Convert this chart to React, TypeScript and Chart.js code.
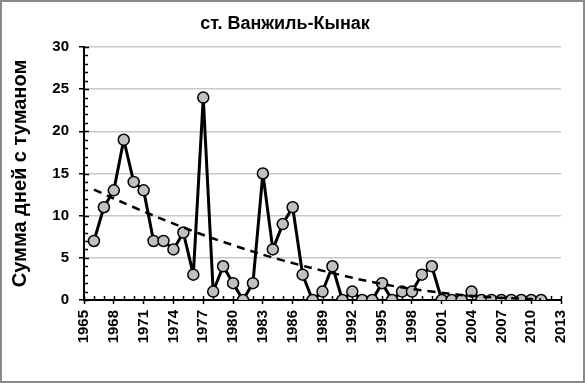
import React, { useEffect, useRef } from "react";
import { Chart, registerables } from "chart.js";

Chart.register(...registerables);

const years = [
  1966, 1967, 1968, 1969, 1970, 1971, 1972, 1973, 1974, 1975, 1976, 1977, 1978, 1979, 1980,
  1981, 1982, 1983, 1984, 1985, 1986, 1987, 1988, 1989, 1990, 1991, 1992, 1993, 1994, 1995,
  1996, 1997, 1998, 1999, 2000, 2001, 2002, 2003, 2004, 2005, 2006, 2007, 2008, 2009, 2010, 2011,
];
const fogDays = [
  7, 11, 13, 19, 14, 13, 7, 7, 6, 8, 3, 24, 1, 4, 2,
  0, 2, 15, 6, 9, 11, 3, 0, 1, 4, 0, 1, 0, 0, 2,
  0, 1, 1, 3, 4, 0, 0, 0, 1, 0, 0, 0, 0, 0, 0, 0,
];
const trendYears = [1966, 1970, 1975, 1980, 1985, 1990, 1995, 2000, 2005, 2011];
const trendValues = [13.1, 11.0, 8.6, 6.5, 4.7, 3.2, 1.9, 1.0, 0.4, 0.05];

const TITLE = "ст. Ванжиль-Кынак";
const Y_TITLE = "Сумма дней с туманом";
const FONT = "'Liberation Sans', Arial, sans-serif";

const framePlugin = {
  id: "frame",
  beforeDraw(chart: any) {
    const { ctx, width, height } = chart;
    ctx.save();
    ctx.fillStyle = "#ffffff";
    ctx.fillRect(0, 0, width, height);
    ctx.strokeStyle = "#8a8a8a";
    ctx.lineWidth = 2;
    ctx.strokeRect(1, 1, width - 2, height - 2);
    ctx.restore();
  },
  beforeDatasetsDraw(chart: any) {
    const { ctx } = chart;
    const xs = chart.scales.x;
    const ys = chart.scales.y;
    ctx.save();
    ctx.strokeStyle = "#000000";
    ctx.lineWidth = 1.5;
    const yBase = ys.getPixelForValue(0);
    for (let yr = 1965; yr <= 2013; yr++) {
      const px = Math.round(xs.getPixelForValue(yr)) + 0.5;
      ctx.beginPath();
      ctx.moveTo(px, yBase);
      ctx.lineTo(px, yBase - 4);
      ctx.stroke();
    }
    const xBase = xs.getPixelForValue(1965);
    for (let v = 0; v <= 30; v++) {
      const py = Math.round(ys.getPixelForValue(v)) + 0.5;
      ctx.beginPath();
      ctx.moveTo(xBase, py);
      ctx.lineTo(xBase + (v % 5 === 0 ? 5 : 4), py);
      ctx.stroke();
    }
    ctx.restore();
  },
};

export default function App() {
  const ref = useRef<HTMLCanvasElement | null>(null);
  useEffect(() => {
    document.body.style.margin = "0";
    Chart.defaults.font.family = FONT;
    const chart = new Chart(ref.current as HTMLCanvasElement, {
      type: "line",
      data: {
        datasets: [
          {
            label: "trend",
            data: trendYears.map((x, i) => ({ x, y: trendValues[i] })),
            borderColor: "#000000",
            borderWidth: 2.5,
            borderDash: [8, 6],
            pointRadius: 0,
            tension: 0.4,
            order: 0,
          },
          {
            label: "fog",
            data: years.map((x, i) => ({ x, y: fogDays[i] })),
            borderColor: "#000000",
            borderWidth: 3,
            borderJoinStyle: "round",
            pointRadius: 5.5,
            pointBackgroundColor: "#c0c0c0",
            pointBorderColor: "#000000",
            pointBorderWidth: 1.5,
            tension: 0,
            order: 1,
          },
        ],
      },
      options: {
        animation: false,
        responsive: false,
        layout: { padding: { left: 0, right: 15, top: 0, bottom: 0 } },
        plugins: {
          legend: { display: false },
          tooltip: { enabled: false },
          title: {
            display: true,
            text: TITLE,
            color: "#000000",
            font: { size: 18, weight: "bold", family: FONT },
            padding: { top: 13, bottom: 12.4 },
          },
        },
        scales: {
          x: {
            type: "linear",
            min: 1965,
            max: 2013,
            afterFit(scale: any) {
              scale.height = 83;
            },
            ticks: {
              stepSize: 3,
              minRotation: 90,
              maxRotation: 90,
              padding: 6,
              color: "#000000",
              font: { size: 15, weight: "bold", family: FONT },
              callback: (v: any) => String(v),
            },
            grid: {
              drawOnChartArea: false,
              drawTicks: true,
              tickLength: 4,
              tickColor: "#000000",
              tickWidth: 1.5,
            },
            border: { display: true, color: "#000000", width: 2 },
          },
          y: {
            min: 0,
            max: 30,
            afterFit(scale: any) {
              scale.width = 84;
            },
            ticks: {
              stepSize: 5,
              padding: 10,
              color: "#000000",
              font: { size: 15, weight: "bold", family: FONT },
            },
            grid: {
              color: "#c8c8c8",
              lineWidth: 1.5,
              drawTicks: true,
              tickLength: 5,
              tickColor: "#000000",
              tickWidth: 1.5,
            },
            border: { display: true, color: "#000000", width: 2 },
            title: {
              display: true,
              text: Y_TITLE,
              color: "#000000",
              font: { size: 20, weight: "bold", family: FONT },
              padding: { top: 8, bottom: 0 },
            },
          },
        },
      },
      plugins: [framePlugin],
    });
    return () => chart.destroy();
  }, []);
  return <canvas ref={ref} width={585} height={383} style={{ display: "block" }} />;
}
